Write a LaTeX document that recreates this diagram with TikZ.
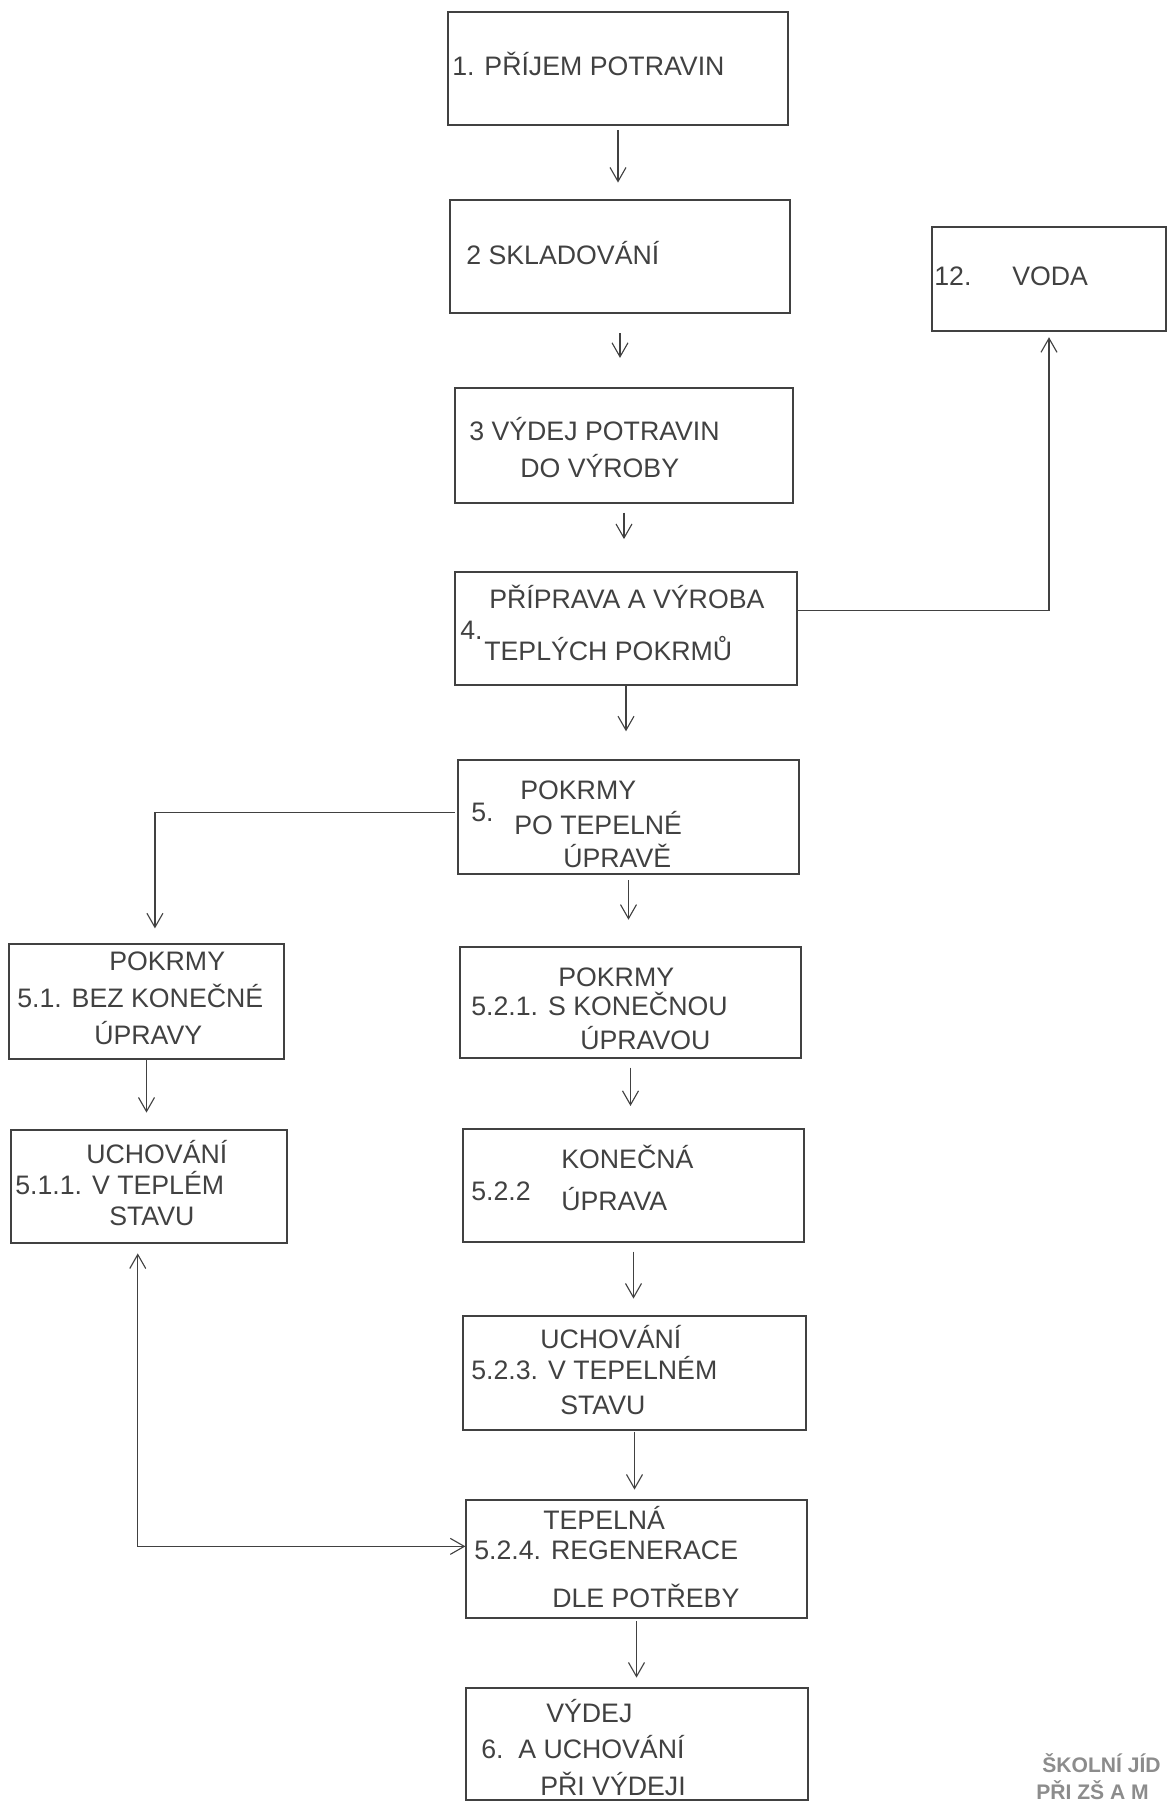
\documentclass[tikz,border=0pt]{standalone}
\usepackage{fontspec}
\setmainfont{Liberation Sans}
\usetikzlibrary{arrows.meta,fit}
\definecolor{ink}{RGB}{65,65,65}
\definecolor{stampgray}{RGB}{140,140,140}
\tikzset{
  box/.style={draw=ink, line width=0.8pt, inner sep=0pt},
  lbl/.style={anchor=base west, inner sep=0pt, text=ink, font=\fontsize{19}{21}\selectfont},
  stamp/.style={anchor=base west, inner sep=0pt, text=stampgray, font=\fontsize{15}{17}\selectfont\bfseries},
  arr/.style={draw=ink, line width=0.8pt, -{Straight Barb[length=3.5mm,width=4mm]}},
  darr/.style={draw=ink, line width=0.8pt, {Straight Barb[length=3.5mm,width=4mm]}-{Straight Barb[length=3.5mm,width=4mm]}},
}
\newcommand{\tl}[4]{\node[lbl] (#1) at (#2,#3+9) {#4};}
\begin{document}
\begin{tikzpicture}[x=0.025cm,y=-0.025cm]
\useasboundingbox (0,0) rectangle (1168,1803);

% boxes
\node[box, fit={(448,12) (788,125)}] (b1) {};
\node[box, fit={(450,200) (790,313)}] (b2) {};
\node[box, fit={(455,388) (793,503)}] (b3) {};
\node[box, fit={(455,572) (797,685)}] (b4) {};
\node[box, fit={(932,227) (1166,331)}] (b12) {};
\node[box, fit={(458,760) (799,874)}] (b5) {};
\node[box, fit={(9,944) (284,1059)}] (b51) {};
\node[box, fit={(460,947) (801,1058)}] (b521) {};
\node[box, fit={(11,1130) (287,1243)}] (b511) {};
\node[box, fit={(463,1129) (804,1242)}] (b522) {};
\node[box, fit={(463,1316) (806,1430)}] (b523) {};
\node[box, fit={(466,1500) (807,1618)}] (b524) {};
\node[box, fit={(466,1688) (808,1800)}] (b6) {};

% texts
\tl{t1}{452}{66}{1. PŘÍJEM POTRAVIN}
\tl{t2}{466}{255}{2 SKLADOVÁNÍ}
\tl{t3a}{469}{431}{3 VÝDEJ POTRAVIN}
\tl{t3b}{520}{468}{DO VÝROBY}
\tl{t4a}{489}{599}{PŘÍPRAVA A VÝROBA}
\tl{t4n}{460}{630}{4.}
\tl{t4b}{484}{651}{TEPLÝCH POKRMŮ}
\tl{t12n}{934}{276}{12.}
\tl{t12}{1012}{276}{VODA}
\tl{t5a}{520}{790}{POKRMY}
\tl{t5n}{471}{812}{5.}
\tl{t5b}{514}{825}{PO TEPELNÉ}
\tl{t5c}{563}{858}{ÚPRAVĚ}
\tl{t51a}{109}{961}{POKRMY}
\tl{t51b}{17}{998}{5.1. BEZ KONEČNÉ}
\tl{t51c}{94}{1035}{ÚPRAVY}
\tl{t521a}{558}{977}{POKRMY}
\tl{t521b}{471}{1006}{5.2.1. S KONEČNOU}
\tl{t521c}{580}{1040}{ÚPRAVOU}
\tl{t511a}{86}{1154}{UCHOVÁNÍ}
\tl{t511b}{15}{1185}{5.1.1. V TEPLÉM}
\tl{t511c}{109}{1216}{STAVU}
\tl{t522a}{561}{1159}{KONEČNÁ}
\tl{t522n}{471}{1191}{5.2.2}
\tl{t522b}{561}{1201}{ÚPRAVA}
\tl{t523a}{540}{1339}{UCHOVÁNÍ}
\tl{t523b}{471}{1370}{5.2.3. V TEPELNÉM}
\tl{t523c}{560}{1405}{STAVU}
\tl{t524a}{543}{1520}{TEPELNÁ}
\tl{t524b}{474}{1550}{5.2.4. REGENERACE}
\tl{t524c}{552}{1598}{DLE POTŘEBY}
\tl{t6a}{546}{1713}{VÝDEJ}
\tl{t6n}{481}{1749}{6.}
\tl{t6b}{518}{1749}{A UCHOVÁNÍ}
\tl{t6c}{540}{1786}{PŘI VÝDEJI}

% stamp
\node[stamp] (s1) at (1042,1772) {ŠKOLNÍ JÍD};
\node[stamp] (s2) at (1036,1799) {PŘI ZŠ A M};

% vertical arrows
\draw[arr, shorten <=3.5pt, shorten >=12pt] (b1.south) -- (b1.south |- b2.north);
\draw[arr, shorten <=14pt, shorten >=21pt] (b2.south) -- (b2.south |- b3.north);
\draw[arr, shorten <=6.4pt, shorten >=23pt] (b3.south) -- (b3.south |- b4.north);
\draw[arr, shorten >=20pt] (b4.south) -- (b4.south |- b5.north);
\draw[arr, shorten <=4pt, shorten >=19pt] (b5.south) -- (b5.south |- b521.north);
\draw[arr, shorten <=6.4pt, shorten >=16pt] (b521.south) -- (b521.south |- b522.north);
\draw[arr, shorten <=6.4pt, shorten >=12pt] (b522.south) -- (b522.south |- b523.north);
\draw[arr, shorten <=0.7pt, shorten >=7pt] (b523.south) -- (b523.south |- b524.north);
\draw[arr, shorten <=2pt, shorten >=7pt] (b524.south) -- (b524.south |- b6.north);
\draw[arr, shorten >=12pt] (b51.south) -- (b51.south |- b511.north);

% elbow connectors
\draw[arr, shorten >=4pt] ([yshift=12.8pt]b4.east) -| (b12.south);
\draw[arr, shorten <=2pt, shorten >=10.7pt] ([yshift=3.5pt]b5.west) -| ([xshift=6pt]b51.north);
\draw[darr, shorten <=7pt] ([xshift=-8pt]b511.south) |- ([yshift=9pt]b524.west);
\end{tikzpicture}
\end{document}
